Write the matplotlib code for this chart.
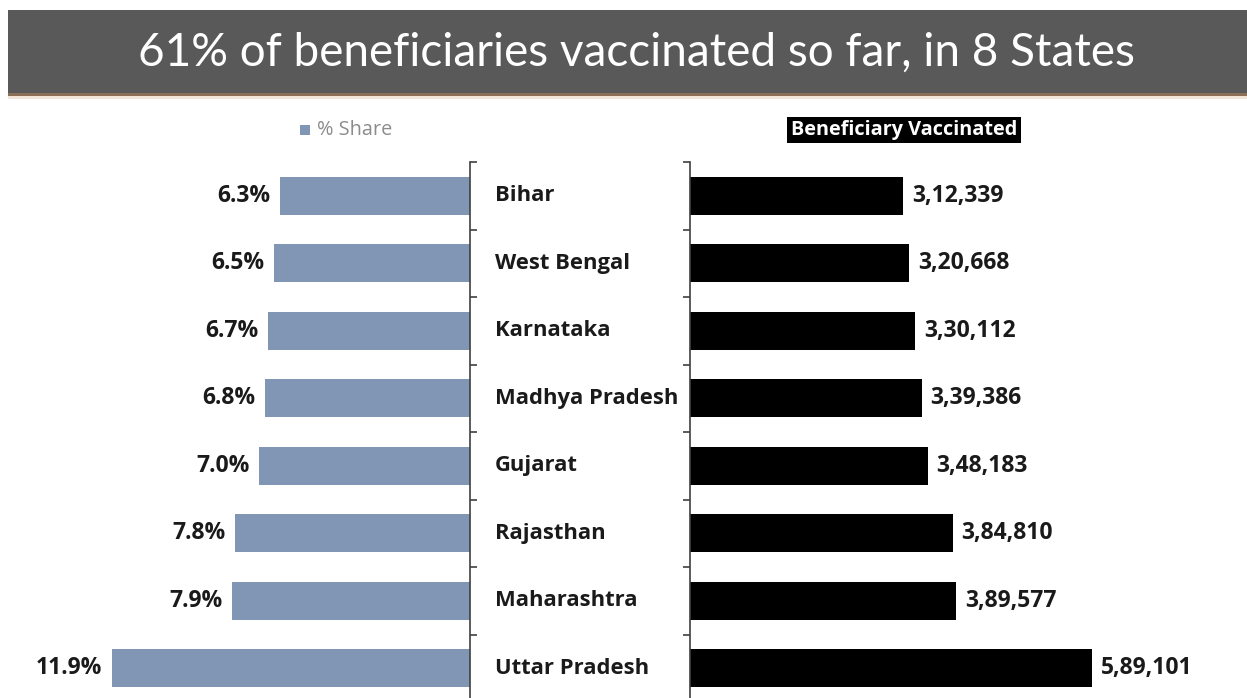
import matplotlib
matplotlib.use("Agg")
import matplotlib.pyplot as plt
from matplotlib.patches import Rectangle
from matplotlib.transforms import blended_transform_factory

states = ["Bihar", "West Bengal", "Karnataka", "Madhya Pradesh", "Gujarat",
          "Rajasthan", "Maharashtra", "Uttar Pradesh"]
share_pct = [6.3, 6.5, 6.7, 6.8, 7.0, 7.8, 7.9, 11.9]
vaccinated = [312339, 320668, 330112, 339386, 348183, 384810, 389577, 589101]
title_text = "61% of beneficiaries vaccinated so far, in 8 States"
left_legend = "% Share"
right_legend = "Beneficiary Vaccinated"

W, H = 1247, 698
fig = plt.figure(figsize=(W / 100, H / 100), dpi=100)
fig.patch.set_facecolor("white")

def fx(px):
    return px / W

def fy(py):
    return 1 - py / H

def indian(n):
    s = str(n)
    last3 = s[-3:]
    rest = s[:-3]
    parts = []
    while len(rest) > 2:
        parts.insert(0, rest[-2:])
        rest = rest[:-2]
    if rest:
        parts.insert(0, rest)
    return ",".join(parts + [last3]) if parts else last3

FONT = ["Open Sans", "DejaVu Sans"]
bar_color = "#8096B4"
txt_color = "#1a1a1a"

# Title bar
fig.patches.append(Rectangle((fx(8), fy(93)), 1 - fx(8), (93 - 10) / H,
                             transform=fig.transFigure, facecolor="#595959",
                             edgecolor="none", zorder=0))
fig.patches.append(Rectangle((fx(8), fy(96)), 1 - fx(8), 3 / H,
                             transform=fig.transFigure, facecolor="#8a6e55",
                             edgecolor="none", zorder=0))
fig.patches.append(Rectangle((fx(8), fy(99)), 1 - fx(8), 3 / H,
                             transform=fig.transFigure, facecolor="#f3e6d8",
                             edgecolor="none", zorder=0))
fig.text(fx(636), fy(53), title_text, color="white", fontsize=33,
         family=["Lato", "DejaVu Sans"], ha="center", va="center")

ytop, ybot = 162, 702
n = len(states)
ypos = list(range(n))

# Left axes (inverted)
l_right = 470
l_scale = 30.1
l_max = 14
axL = fig.add_axes([fx(l_right - l_max * l_scale), fy(ybot),
                    l_max * l_scale / W, (ybot - ytop) / H])
axL.barh(ypos, share_pct, height=0.57, color=bar_color)
axL.set_xlim(l_max, 0)
axL.set_ylim(n - 0.5, -0.5)
for s in ["top", "left", "bottom"]:
    axL.spines[s].set_visible(False)
axL.spines["right"].set_color("#404040")
axL.spines["right"].set_linewidth(1.2)
axL.set_xticks([])
axL.yaxis.tick_right()
axL.set_yticks([i - 0.5 for i in range(n + 1)])
axL.set_yticklabels([])
axL.tick_params(axis="y", direction="out", length=5, width=1.2, color="#404040")
for y, v in zip(ypos, share_pct):
    axL.text(v + 0.33, y, f"{v:.1f}%", ha="right", va="center",
             fontsize=16.5, fontweight="bold", family=FONT, color=txt_color)

# Right axes
r_left = 690
r_max = 700000
r_w = 402 * r_max / 589101
axR = fig.add_axes([fx(r_left), fy(ybot), r_w / W, (ybot - ytop) / H])
axR.barh(ypos, vaccinated, height=0.57, color="black")
axR.set_xlim(0, r_max)
axR.set_ylim(n - 0.5, -0.5)
for s in ["top", "right", "bottom"]:
    axR.spines[s].set_visible(False)
axR.spines["left"].set_color("#404040")
axR.spines["left"].set_linewidth(1.2)
axR.set_xticks([])
axR.set_yticks([i - 0.5 for i in range(n + 1)])
axR.set_yticklabels([])
axR.tick_params(axis="y", direction="out", length=5, width=1.2, color="#404040")
for y, v in zip(ypos, vaccinated):
    axR.text(v + 9 * r_max / r_w, y, indian(v), ha="left", va="center",
             fontsize=16.5, fontweight="bold", family=FONT, color=txt_color)

# Category labels
tr = blended_transform_factory(fig.transFigure, axL.transData)
for y, s in zip(ypos, states):
    t = fig.text(fx(495), y, s, ha="left", va="center",
                 fontsize=15.8, fontweight="bold", family=FONT, color=txt_color)
    t.set_transform(tr)

# Left legend
fig.patches.append(Rectangle((fx(300), fy(135)), 10 / W, 10 / H,
                             transform=fig.transFigure, facecolor=bar_color,
                             edgecolor="none"))
fig.text(fx(317), fy(130), left_legend, ha="left", va="center", fontsize=14.3,
         family=FONT, color="#8c8c8c")

# Right legend
fig.text(fx(904), fy(130), right_legend, ha="center", va="center", fontsize=14.3,
         fontweight="bold", family=FONT, color="white",
         bbox=dict(facecolor="black", edgecolor="none", pad=2.5))

fig.savefig("out.png", dpi=100)
